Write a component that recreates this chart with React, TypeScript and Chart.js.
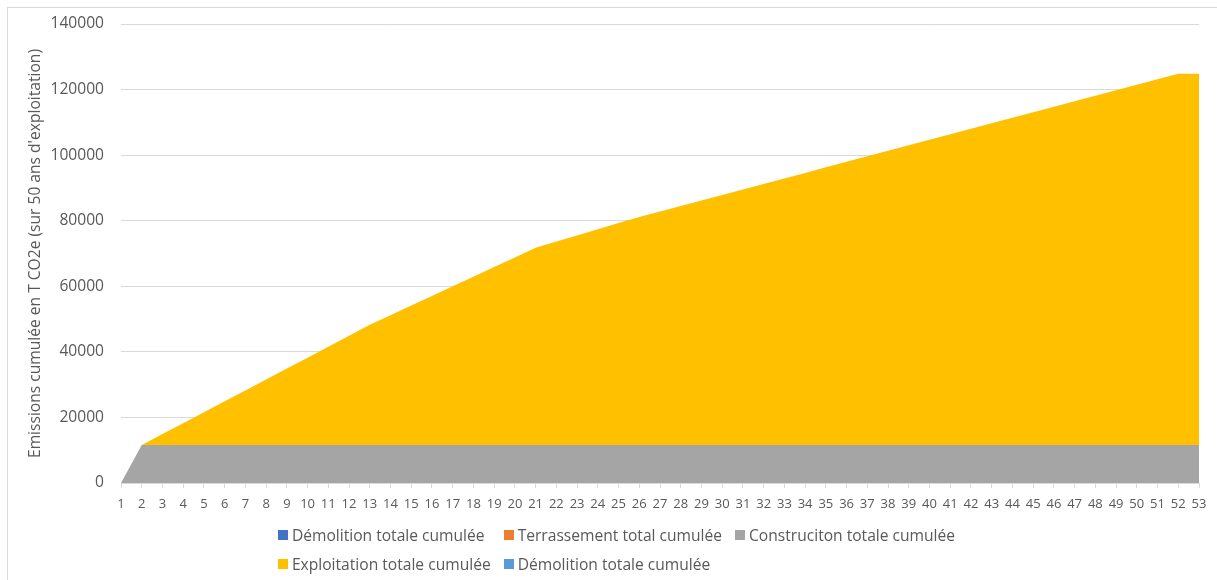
import React, { useEffect, useRef } from "react";
import { Chart, registerables } from "chart.js";

Chart.register(...registerables);

const categories = [
  "1", "2", "3", "4", "5", "6", "7", "8", "9", "10",
  "11", "12", "13", "14", "15", "16", "17", "18", "19", "20",
  "21", "22", "23", "24", "25", "26", "27", "28", "29", "30",
  "31", "32", "33", "34", "35", "36", "37", "38", "39", "40",
  "41", "42", "43", "44", "45", "46", "47", "48", "49", "50",
  "51", "52", "53",
];

const demolitionValues = [
  0, 0, 0, 0, 0, 0, 0, 0, 0, 0, 0, 0, 0, 0, 0, 0, 0, 0, 0, 0, 0, 0, 0, 0, 0, 0, 0,
  0, 0, 0, 0, 0, 0, 0, 0, 0, 0, 0, 0, 0, 0, 0, 0, 0, 0, 0, 0, 0, 0, 0, 0, 0, 0,
];

const terrassementValues = [
  0, 0, 0, 0, 0, 0, 0, 0, 0, 0, 0, 0, 0, 0, 0, 0, 0, 0, 0, 0, 0, 0, 0, 0, 0, 0, 0,
  0, 0, 0, 0, 0, 0, 0, 0, 0, 0, 0, 0, 0, 0, 0, 0, 0, 0, 0, 0, 0, 0, 0, 0, 0, 0,
];

const constructionValues = [
  0, 11600, 11600, 11600, 11600, 11600, 11600, 11600, 11600, 11600,
  11600, 11600, 11600, 11600, 11600, 11600, 11600, 11600, 11600, 11600,
  11600, 11600, 11600, 11600, 11600, 11600, 11600, 11600, 11600, 11600,
  11600, 11600, 11600, 11600, 11600, 11600, 11600, 11600, 11600, 11600,
  11600, 11600, 11600, 11600, 11600, 11600, 11600, 11600, 11600, 11600,
  11600, 11600, 11600,
];

const exploitationValues = [
  0, 0, 3330, 6660, 9990, 13320, 16650, 19980, 23310, 26640,
  29970, 33300, 36630, 39570, 42510, 45450, 48390, 51330, 54270, 57210,
  60150, 62030, 63910, 65790, 67670, 69550, 71230, 72910, 74590, 76270,
  77950, 79630, 81310, 82990, 84670, 86350, 88030, 89710, 91390, 93070,
  94750, 96430, 98110, 99790, 101470, 103150, 104830, 106510, 108190, 109870,
  111550, 113230, 113230,
];

const demolition2Values = [
  0, 0, 0, 0, 0, 0, 0, 0, 0, 0, 0, 0, 0, 0, 0, 0, 0, 0, 0, 0, 0, 0, 0, 0, 0, 0, 0,
  0, 0, 0, 0, 0, 0, 0, 0, 0, 0, 0, 0, 0, 0, 0, 0, 0, 0, 0, 0, 0, 0, 0, 0, 0, 0,
];

const seriesLabels = [
  "Démolition totale cumulée",
  "Terrassement total cumulée",
  "Construciton totale cumulée",
  "Exploitation totale cumulée",
  "Démolition totale cumulée",
];
const seriesColors = ["#4472C4", "#ED7D31", "#A5A5A5", "#FFC000", "#5B9BD5"];
const seriesValues = [
  demolitionValues,
  terrassementValues,
  constructionValues,
  exploitationValues,
  demolition2Values,
];

const yAxisTitle = "Emissions cumulée en T CO2e (sur 50 ans d'exploitation)";
const yMin = 0;
const yMax = 140000;
const yStep = 20000;

const TEXT = "#595959";
const GRID = "#d9d9d9";
const FONT = "'Open Sans', 'DejaVu Sans', sans-serif";

export default function App() {
  const canvasRef = useRef<HTMLCanvasElement | null>(null);

  useEffect(() => {
    const canvas = canvasRef.current;
    if (!canvas) return;
    const chart = new Chart(canvas, {
      type: "line",
      data: {
        labels: categories,
        datasets: seriesValues.map((vals, i) => ({
          label: seriesLabels[i],
          data: vals,
          backgroundColor: seriesColors[i],
          borderColor: "transparent",
          borderWidth: 0,
          pointRadius: 0,
          pointHoverRadius: 0,
          tension: 0,
          fill: i === 0 ? "origin" : "-1",
        })),
      },
      options: {
        responsive: false,
        animation: false,
        devicePixelRatio: 1,
        layout: { padding: { left: 14, right: 19, top: 16, bottom: 0 } },
        plugins: {
          legend: { display: false },
          tooltip: { enabled: false },
          filler: { propagate: false },
        },
        scales: {
          x: {
            offset: false,
            grid: {
              display: true,
              drawOnChartArea: false,
              drawTicks: true,
              tickLength: 5,
              color: GRID,
            },
            border: { display: true, color: GRID },
            ticks: {
              autoSkip: false,
              maxRotation: 0,
              minRotation: 0,
              padding: 8,
              color: TEXT,
              font: { family: FONT, size: 13 },
            },
            afterFit: (scale: any) => {
              scale.height = 45;
            },
          },
          y: {
            stacked: true,
            min: yMin,
            max: yMax,
            grid: {
              color: GRID,
              drawTicks: true,
              tickLength: 17,
              tickColor: "transparent",
            },
            border: { display: false },
            ticks: {
              stepSize: yStep,
              padding: 0,
              color: TEXT,
              font: { family: FONT, size: 15.6 },
              callback: (v: any) => String(v),
            },
            title: {
              display: true,
              text: yAxisTitle,
              color: TEXT,
              padding: { top: 4, bottom: 0 },
              font: { family: FONT, size: 15.6 },
            },
            afterFit: (scale: any) => {
              scale.width = 99;
            },
          },
        },
      },
    });
    return () => chart.destroy();
  }, []);

  return (
    <div
      style={{
        position: "fixed",
        left: 7,
        top: 7,
        width: 1240,
        height: 620,
        border: "1px solid #d9d9d9",
        background: "#fff",
        boxSizing: "border-box",
        overflow: "hidden",
      }}
    >
      <canvas
        ref={canvasRef}
        width={1210}
        height={520}
        style={{ position: "absolute", left: 0, top: 0, width: 1210, height: 520 }}
      />
      <div
        style={{
          position: "absolute",
          left: 0,
          top: 512,
          width: 1217,
          display: "flex",
          justifyContent: "center",
        }}
      >
        <div
          style={{
            display: "grid",
            gridTemplateColumns: "auto auto auto",
            columnGap: 13,
            gridAutoRows: "29px",
          }}
        >
          {seriesLabels.map((label, i) => (
            <div
              key={i}
              style={{
                display: "flex",
                alignItems: "center",
                fontFamily: FONT,
                fontSize: 15.6,
                color: TEXT,
                whiteSpace: "nowrap",
              }}
            >
              <span
                style={{
                  display: "inline-block",
                  width: 10,
                  height: 10,
                  background: seriesColors[i],
                  marginRight: 4,
                }}
              />
              {label}
            </div>
          ))}
        </div>
      </div>
    </div>
  );
}
